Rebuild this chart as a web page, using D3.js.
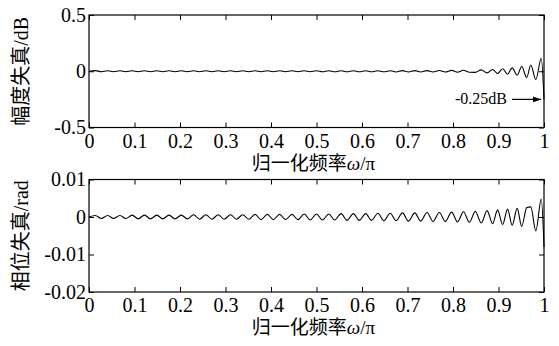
<!DOCTYPE html>
<html>
<head>
<meta charset="utf-8">
<script src="https://cdn.jsdelivr.net/npm/d3@7"></script>
<style>
  body { margin: 0; background: #fff; }
  text { fill: #000; }
  .axis text { font-family: "Liberation Serif", "Times New Roman", serif; font-size: 20px; }
  .axis line { stroke: #000; }
  .axis path { display: none; }
</style>
</head>
<body>
<svg id="chart" width="559" height="346"></svg>
<script>
"use strict";

// normalized frequency w/pi at ripple extrema
var freqs = [0, 0.014, 0.027, 0.041, 0.054, 0.068, 0.081, 0.095, 0.108, 0.122,
  0.135, 0.149, 0.162, 0.176, 0.189, 0.203, 0.216, 0.230, 0.243, 0.257,
  0.270, 0.284, 0.297, 0.311, 0.324, 0.338, 0.351, 0.365, 0.378, 0.392,
  0.405, 0.419, 0.432, 0.446, 0.459, 0.473, 0.486, 0.500, 0.513, 0.527,
  0.540, 0.554, 0.567, 0.581, 0.594, 0.608, 0.621, 0.635, 0.648, 0.662,
  0.675, 0.689, 0.702, 0.716, 0.729, 0.743, 0.756, 0.770, 0.783, 0.797,
  0.810, 0.823, 0.836, 0.849, 0.862, 0.875, 0.887, 0.898, 0.909, 0.920,
  0.930, 0.941, 0.951, 0.962, 0.971, 0.982, 0.994, 1.0];

// amplitude distortion, dB
var ampErr = [0, 0.006, -0.004, 0.004, -0.004, 0.004, -0.004, 0.004, -0.004, 0.004,
  -0.004, 0.004, -0.004, 0.004, -0.004, 0.004, -0.004, 0.004, -0.004, 0.004,
  -0.004, 0.004, -0.004, 0.004, -0.004, 0.004, -0.004, 0.004, -0.004, 0.004,
  -0.004, 0.004, -0.004, 0.004, -0.004, 0.004, -0.004, 0.004, -0.005, 0.005,
  -0.005, 0.005, -0.005, 0.005, -0.005, 0.005, -0.005, 0.005, -0.005, 0.005,
  -0.006, 0.006, -0.006, 0.006, -0.006, 0.006, -0.007, 0.007, -0.007, 0.008,
  -0.008, 0.009, -0.009, -0.010, 0.012, -0.014, 0.016, -0.020, 0.022, -0.026,
  0.030, -0.036, 0.042, -0.055, 0.055, -0.075, 0.115, -0.25];

// phase distortion, rad
var phaseErr = [0, 0.0004, -0.0004, 0.0004, -0.0004, 0.0004, -0.0004, 0.0005, -0.0005, 0.0005,
  -0.0005, 0.0005, -0.0005, 0.0005, -0.0005, 0.0005, -0.0005, 0.0006, -0.0006, 0.0006,
  -0.0006, 0.0006, -0.0006, 0.0006, -0.0006, 0.0006, -0.0006, 0.0007, -0.0007, 0.0007,
  -0.0007, 0.0007, -0.0007, 0.0007, -0.0007, 0.0008, -0.0008, 0.0008, -0.0008, 0.0008,
  -0.0008, 0.0009, -0.0009, 0.0009, -0.0009, 0.0009, -0.0009, 0.0010, -0.0010, 0.0010,
  -0.0010, 0.0011, -0.0011, 0.0011, -0.0011, 0.0012, -0.0012, 0.0012, -0.0012, 0.0013,
  -0.0013, 0.0014, -0.0014, 0.0015, -0.0016, 0.0017, -0.0018, 0.0019, -0.0020, 0.0021,
  -0.0022, 0.0023, -0.0025, 0.0025, 0.0027, -0.0037, 0.0048, -0.008];

var xTicks = [0, 0.1, 0.2, 0.3, 0.4, 0.5, 0.6, 0.7, 0.8, 0.9, 1];
var ampTicks = [-0.5, 0, 0.5];
var phaseTicks = [-0.02, -0.01, 0, 0.01];

var svg = d3.select("#chart");

var x = d3.scaleLinear().domain([0, 1]).range([89, 544]);

var panels = [
  { values: ampErr, ticks: ampTicks, domain: [-0.5, 0.5], top: 15, bottom: 127.5,
    ylabel: "幅度失真/dB" },
  { values: phaseErr, ticks: phaseTicks, domain: [-0.02, 0.01], top: 179.5, bottom: 292,
    ylabel: "相位失真/rad" }
];

var line = d3.line().curve(d3.curveMonotoneX);

panels.forEach(function(p) {
  var y = d3.scaleLinear().domain(p.domain).range([p.bottom, p.top]);
  var fmt = function(d) { return String(d); };

  svg.append("g").attr("class", "axis")
     .attr("transform", "translate(0," + p.bottom + ")")
     .call(d3.axisBottom(x).tickValues(xTicks).tickSizeInner(-5).tickSizeOuter(0).tickPadding(6).tickFormat(fmt));

  svg.append("g").attr("class", "axis")
     .attr("transform", "translate(0," + p.top + ")")
     .call(d3.axisTop(x).tickValues(xTicks).tickSizeInner(-5).tickSizeOuter(0).tickFormat(""));

  svg.append("g").attr("class", "axis")
     .attr("transform", "translate(" + x(0) + ",0)")
     .call(d3.axisLeft(y).tickValues(p.ticks).tickSizeInner(-5).tickSizeOuter(0).tickPadding(3).tickFormat(fmt));

  svg.append("g").attr("class", "axis")
     .attr("transform", "translate(" + x(1) + ",0)")
     .call(d3.axisRight(y).tickValues(p.ticks).tickSizeInner(-5).tickSizeOuter(0).tickFormat(""));

  // frame
  svg.append("rect")
     .attr("x", x(0)).attr("y", p.top)
     .attr("width", x(1) - x(0)).attr("height", p.bottom - p.top)
     .attr("fill", "none").attr("stroke", "#000").attr("stroke-width", 1.2);

  line.x(function(d) { return x(d[0]); }).y(function(d) { return y(d[1]); });
  svg.append("path")
     .datum(d3.zip(freqs, p.values))
     .attr("d", line)
     .attr("fill", "none")
     .attr("stroke", "#000")
     .attr("stroke-width", 1.1);

  // y axis title
  var yt = svg.append("text")
     .attr("transform", "translate(28," + ((p.top + p.bottom) / 2) + ") rotate(-90)")
     .attr("text-anchor", "middle")
     .style("font-size", "20px");
  var parts = p.ylabel.split("/");
  yt.append("tspan").style("font-family", "'Noto Sans CJK SC', sans-serif").text(parts[0]);
  yt.append("tspan").style("font-family", "'Liberation Serif', serif").text("/" + parts[1]);

  // x axis title
  var xt = svg.append("text")
     .attr("x", (x(0) + x(1)) / 2 - 3)
     .attr("y", p.bottom + 42)
     .attr("text-anchor", "middle")
     .style("font-size", "19px");
  xt.append("tspan").style("font-family", "'Noto Sans CJK SC', sans-serif").text("归一化频率");
  xt.append("tspan").style("font-family", "'Liberation Serif', serif").style("font-style", "italic").text("ω");
  xt.append("tspan").style("font-family", "'Liberation Serif', serif").text("/π");

  if (p.values === ampErr) {
    var yAnn = y(-0.25);
    svg.append("defs").append("marker")
       .attr("id", "arrow").attr("viewBox", "0 0 10 10")
       .attr("refX", 10).attr("refY", 5)
       .attr("markerWidth", 7).attr("markerHeight", 7)
       .attr("orient", "auto")
       .append("path").attr("d", "M0,1.5L10,5L0,8.5Z").attr("fill", "#000");
    svg.append("text")
       .attr("x", 481).attr("y", yAnn + 5)
       .attr("text-anchor", "middle")
       .style("font-family", "'Liberation Serif', serif")
       .style("font-size", "16px")
       .text("-0.25dB");
    svg.append("line")
       .attr("x1", 512).attr("y1", yAnn)
       .attr("x2", x(1) - 3).attr("y2", yAnn)
       .attr("stroke", "#000").attr("stroke-width", 1.2)
       .attr("marker-end", "url(#arrow)");
  }
});
</script>
</body>
</html>
